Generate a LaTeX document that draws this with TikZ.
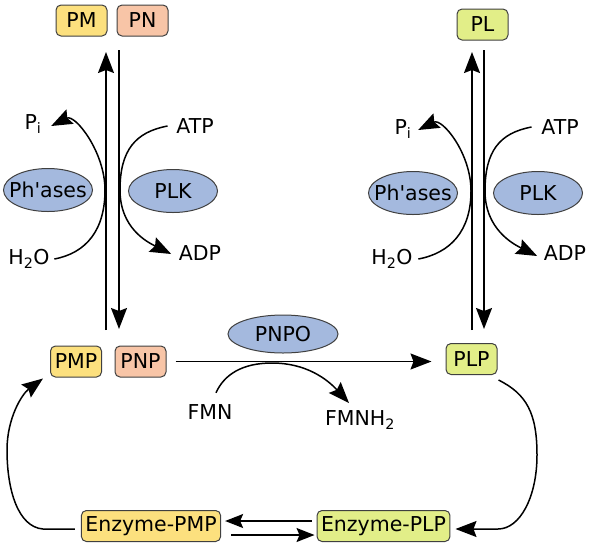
\documentclass[tikz,border=0pt]{standalone}
\usepackage{fontspec}
\setmainfont{DejaVu Sans}
\usetikzlibrary{arrows.meta,shapes.geometric}

\definecolor{pmcol}{HTML}{FCE07E}
\definecolor{pncol}{HTML}{F8C5A7}
\definecolor{plcol}{HTML}{E2EE88}
\definecolor{enzcol}{HTML}{A4B9DE}

\tikzset{
  metab/.style={draw=black!75,line width=1pt,rounded corners=5pt,minimum width=51pt,minimum height=31pt,inner xsep=4pt},
  enzyme/.style={ellipse,draw=black!75,line width=1pt,fill=enzcol,inner sep=0pt,minimum width=89pt,minimum height=43pt},
  lbl/.style={inner sep=1pt},
  rxn/.style={-{Stealth[length=21pt,width=16pt,inset=3pt]}},
  bind/.style={-{Stealth[length=18pt,width=14pt,inset=3pt]}},
}

\begin{document}
\begin{tikzpicture}[x=1pt,y=-1pt,line width=1.5pt,font=\fontsize{20.5}{24}\selectfont]
\useasboundingbox (0,0) rectangle (591,550);

% metabolites
\node[metab,fill=pmcol] (pm) at (81.5,20.5) {PM};
\node[metab,fill=pncol] (pn) at (142.5,20.5) {PN};
\node[metab,fill=plcol] (pl) at (482.5,24.5) {PL};
\node[metab,fill=pmcol] (pmp) at (76,361.5) {PMP};
\node[metab,fill=pncol] (pnp) at (140.5,361.5) {PNP};
\node[metab,fill=plcol] (plp) at (471.5,359) {PLP};
\node[metab,fill=pmcol] (epmp) at (151,526) {Enzyme-PMP};
\node[metab,fill=plcol] (eplp) at (383.5,526) {Enzyme-PLP};

% enzymes
\node[enzyme] (phL) at (48,190) {\makebox[0pt]{Ph\textquotesingle ases}};
\node[enzyme] (plkL) at (173,191) {\makebox[0pt]{PLK}};
\node[enzyme] (phR) at (413,193) {\makebox[0pt]{Ph\textquotesingle ases}};
\node[enzyme] (plkR) at (538,193) {\makebox[0pt]{PLK}};
\node[enzyme,minimum width=110pt,minimum height=38pt] (pnpo) at (283,334) {\makebox[0pt]{PNPO}};

% cofactors
\node[lbl] (piL) at (33,124) {P\textsubscript{i}};
\node[lbl] (atpL) at (195,126) {ATP};
\node[lbl] (h2oL) at (29,259) {H\textsubscript{2}O};
\node[lbl] (adpL) at (200,253) {ADP};
\node[lbl] (piR) at (403,129) {P\textsubscript{i}};
\node[lbl] (atpR) at (560,127) {ATP};
\node[lbl] (h2oR) at (392,259) {H\textsubscript{2}O};
\node[lbl] (adpR) at (565,253) {ADP};
\node[lbl] (fmn) at (210,412) {FMN};
\node[lbl] (fmnh) at (360,420) {FMNH\textsubscript{2}};

% vertical exchange lines
\coordinate (lupA) at (106,330); \coordinate (lupB) at (106,52);
\coordinate (ldnA) at (119,50);  \coordinate (ldnB) at (119,329);
\coordinate (rupA) at (472,330); \coordinate (rupB) at (472,52);
\coordinate (rdnA) at (484,50);  \coordinate (rdnB) at (484,329);
\draw[rxn] (lupA) -- (lupB);
\draw[rxn] (ldnA) -- (ldnB);
\draw[rxn] (rupA) -- (rupB);
\draw[rxn] (rdnA) -- (rdnB);

% side reactions
\coordinate (tphL) at (105,190);
\coordinate (tplkL) at (120,190);
\coordinate (tphR) at (471,191);
\coordinate (tplkR) at (485,191);
\draw[rxn] ([xshift=3pt]h2oL.east) .. controls +(32,-6) and +(0,40) .. (tphL)
  .. controls +(0,-38) and +(24,-12) .. ([xshift=8pt,yshift=-2pt]piL.east);
\draw[rxn] ([xshift=-7pt]atpL.west) .. controls +(-32,6) and +(0,-40) .. (tplkL)
  .. controls +(0,38) and +(-24,-12) .. ([xshift=-6pt,yshift=-1pt]adpL.west);
\draw[rxn] ([xshift=4pt]h2oR.east) .. controls +(32,-6) and +(0,40) .. (tphR)
  .. controls +(0,-38) and +(24,-12) .. ([xshift=5pt,yshift=-1pt]piR.east);
\draw[rxn] ([xshift=-8pt]atpR.west) .. controls +(-32,6) and +(0,-40) .. (tplkR)
  .. controls +(0,38) and +(-24,-12) .. ([xshift=-5pt,yshift=-3pt]adpR.west);

% PNPO step
\coordinate (tfmn) at (272,363);
\draw[rxn,shorten <=9pt,shorten >=14pt] (pnp.east) -- (pnp.east -| plp.west);
\draw[rxn] ([xshift=6pt,yshift=10pt]fmn.north) .. controls +(8,-18) and +(-30,0) .. (tfmn)
  .. controls +(34,0) and +(-22,-24) .. ([xshift=-11pt,yshift=6pt]fmnh.north);

% enzyme binding
\draw[bind,shorten <=5pt,shorten >=4pt] ([yshift=5pt]eplp.west) -- ([yshift=5pt]epmp.east);
\draw[bind,shorten <=10pt,shorten >=2pt] ([yshift=-9pt]epmp.east) -- ([yshift=-9pt]eplp.west);
\draw[rxn] ([xshift=1pt,yshift=-5pt]plp.south east) .. controls +(28,14) and +(0,-42) .. (537,455)
  .. controls +(0,42) and +(22,0) .. (498,529) -- ([xshift=5pt,yshift=-3pt]eplp.east);
\draw[rxn] ([xshift=-6pt,yshift=-3pt]epmp.west) -- (43,529) .. controls (18,527) and (7,490) .. (7,450)
  .. controls (7,418) and (22,394) .. ([xshift=-7pt,yshift=-1pt]pmp.south west);
\end{tikzpicture}
\end{document}
